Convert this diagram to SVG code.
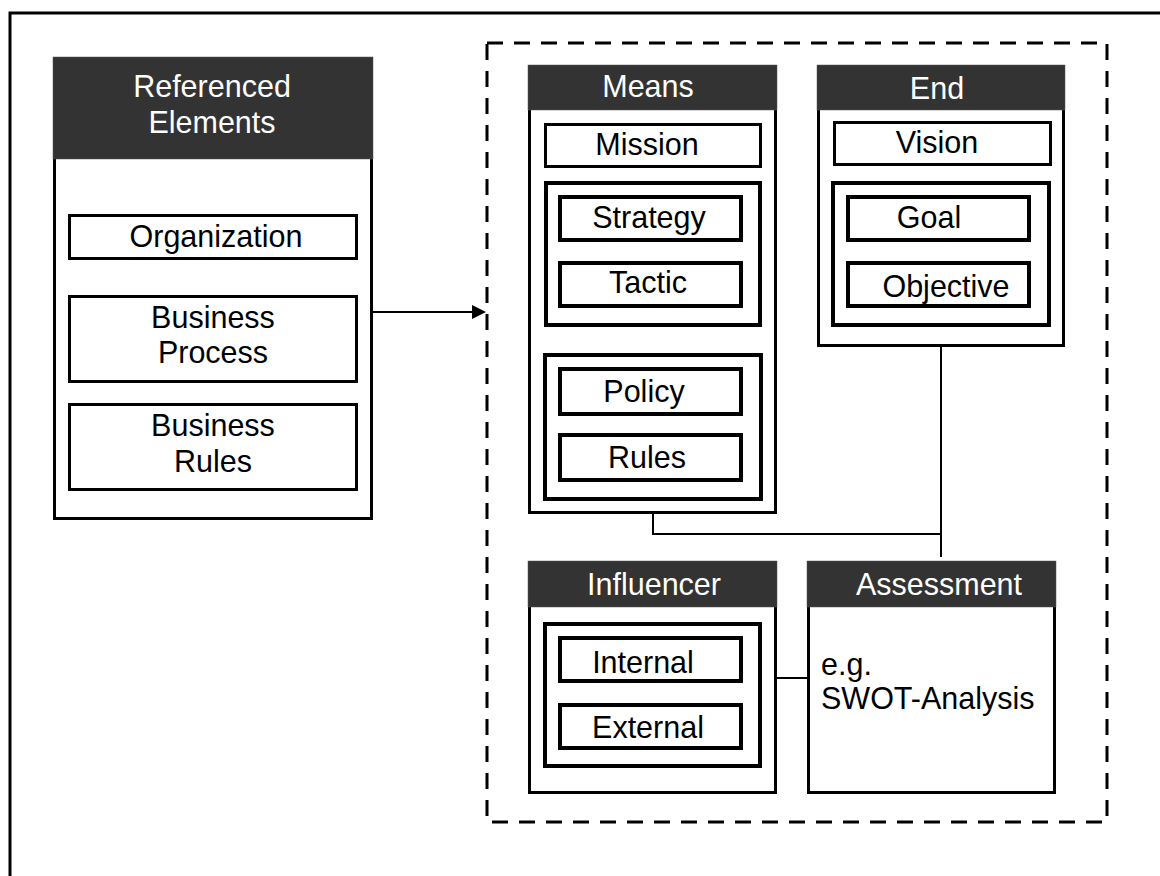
<svg xmlns="http://www.w3.org/2000/svg" width="1160" height="876" viewBox="0 0 1160 876">
  <style>
    text { font-family: "Liberation Sans", Arial, Helvetica, sans-serif; font-size: 30.5px; }
    .t { fill: #000; text-anchor: middle; }
    .tl { fill: #000; text-anchor: start; }
    .ht { fill: #fff; text-anchor: middle; }
    .body { fill: #fff; stroke: #000; stroke-width: 3; }
    .hdr { fill: #333; stroke: #555; stroke-width: 0.5; }
    .box { fill: #fff; stroke: #000; stroke-width: 3; }
    .box4 { fill: #fff; stroke: #000; stroke-width: 4; }
    .wire { fill: none; stroke: #000; stroke-width: 2; }
  </style>

  <!-- page frame -->
  <path d="M10 876 V13 H1160" fill="none" stroke="#000" stroke-width="3"/>

  <!-- boundary around motivation elements -->
  <rect x="487" y="43" width="620" height="779" fill="none" stroke="#000" stroke-width="3" stroke-dasharray="16 11"/>

  <g id="referenced-elements">
    <rect class="body" x="54.5" y="58.5" width="317" height="460"/>
    <rect class="hdr" x="53" y="57" width="320" height="102"/>
    <text class="ht" x="212" y="97">Referenced</text>
    <text class="ht" x="212" y="133">Elements</text>
    <g id="organization">
      <rect class="box" x="69.5" y="215.5" width="287" height="43"/>
      <text class="t" x="216" y="247">Organization</text>
    </g>
    <g id="business-process">
      <rect class="box" x="69.5" y="296.5" width="287" height="85"/>
      <text class="t" x="213" y="328">Business</text>
      <text class="t" x="213" y="363">Process</text>
    </g>
    <g id="business-rules">
      <rect class="box" x="69.5" y="404.5" width="287" height="85"/>
      <text class="t" x="213" y="436">Business</text>
      <text class="t" x="213" y="472">Rules</text>
    </g>
  </g>

  <g id="means">
    <rect class="body" x="529.5" y="66.5" width="246" height="446"/>
    <rect class="hdr" x="528" y="65" width="249" height="45"/>
    <text class="ht" x="648" y="97">Means</text>
    <g id="mission">
      <rect class="box" x="545.5" y="124.5" width="215" height="42"/>
      <text class="t" x="647" y="155">Mission</text>
    </g>
    <g id="strategy-tactic">
      <rect class="box4" x="546" y="183" width="214" height="142"/>
      <g id="strategy">
        <rect class="box4" x="560" y="197" width="181" height="43"/>
        <text class="t" x="649" y="228">Strategy</text>
      </g>
      <g id="tactic">
        <rect class="box4" x="560" y="263" width="181" height="43"/>
        <text class="t" x="648" y="293">Tactic</text>
      </g>
    </g>
    <g id="policy-rules">
      <rect class="box4" x="545" y="355" width="216" height="144"/>
      <g id="policy">
        <rect class="box4" x="560" y="369" width="181" height="45"/>
        <text class="t" x="644" y="402">Policy</text>
      </g>
      <g id="rules">
        <rect class="box4" x="560" y="435" width="181" height="45"/>
        <text class="t" x="647" y="468">Rules</text>
      </g>
    </g>
  </g>

  <g id="end">
    <rect class="body" x="818.5" y="66.5" width="245" height="279"/>
    <rect class="hdr" x="817" y="65" width="248" height="45"/>
    <text class="ht" x="937" y="99">End</text>
    <g id="vision">
      <rect class="box" x="834.5" y="122.5" width="216" height="42"/>
      <text class="t" x="937" y="153">Vision</text>
    </g>
    <g id="goal-objective">
      <rect class="box4" x="833" y="183" width="216" height="142"/>
      <g id="goal">
        <rect class="box4" x="848" y="197" width="181" height="43"/>
        <text class="t" x="929" y="228">Goal</text>
      </g>
      <g id="objective">
        <rect class="box4" x="848" y="263" width="181" height="43"/>
        <text class="t" x="946" y="297">Objective</text>
      </g>
    </g>
  </g>

  <g id="influencer">
    <rect class="body" x="529.5" y="562.5" width="246" height="230"/>
    <rect class="hdr" x="528" y="561" width="249" height="46"/>
    <text class="ht" x="654" y="595">Influencer</text>
    <g id="internal-external">
      <rect class="box4" x="545" y="624" width="215" height="142"/>
      <g id="internal">
        <rect class="box4" x="560" y="638" width="181" height="43"/>
        <text class="t" x="643" y="673">Internal</text>
      </g>
      <g id="external">
        <rect class="box4" x="560" y="705" width="181" height="43"/>
        <text class="t" x="648" y="738">External</text>
      </g>
    </g>
  </g>

  <g id="assessment">
    <rect class="body" x="808.5" y="562.5" width="246" height="230"/>
    <rect class="hdr" x="807" y="561" width="249" height="46"/>
    <text class="ht" x="939" y="595">Assessment</text>
    <text class="tl" x="821" y="675">e.g.</text>
    <text class="tl" x="821" y="709">SWOT-Analysis</text>
  </g>

  <g id="connectors">
    <line class="wire" x1="373" y1="312" x2="474" y2="312"/>
    <polygon points="472,305 486,312 472,319" fill="#000"/>
    <path class="wire" d="M653 514 V534 H941"/>
    <path class="wire" d="M941 347 V557"/>
    <line class="wire" x1="777" y1="678" x2="808" y2="678"/>
  </g>
</svg>
